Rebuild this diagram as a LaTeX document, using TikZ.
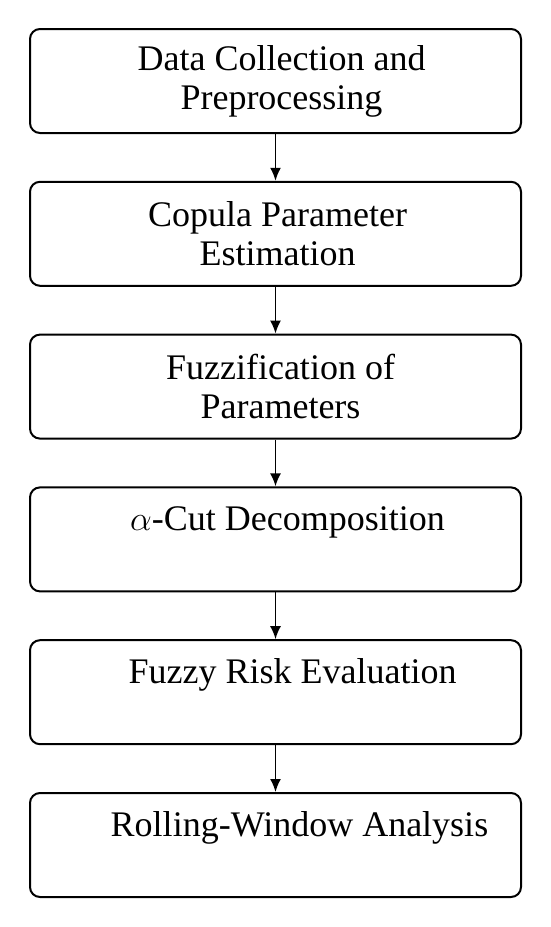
\documentclass[tikz,border=0pt]{standalone}
\usepackage{fontspec}
\setmainfont{Liberation Serif}
\usetikzlibrary{arrows.meta,positioning}

\begin{document}
\begin{tikzpicture}[
  % Boxes and connectors
  stage/.style={
    draw=black,
    rounded corners=5pt,
    line width=1pt,
    minimum width=245.5pt,
    minimum height=52pt,
    inner sep=0pt
  },
  stagetext/.style={
    font=\fontsize{18}{19.5}\selectfont,
    align=center,
    inner sep=0pt
  },
  arr/.style={
    -{Latex[length=6.5pt,width=5.5pt]},
    line width=0.9pt
  },
  node distance=23.4pt
]
\useasboundingbox (0,0) rectangle (275.5pt,-463.5pt);

% Stages
\node[stage] (collect) at (137.75pt,-40.5pt) {};
\node[stage, below=of collect] (copula) {};
\node[stage, below=of copula] (fuzzify) {};
\node[stage, below=of fuzzify] (alphacut) {};
\node[stage, below=of alphacut] (risk) {};
\node[stage, below=of risk] (rolling) {};

% Stage texts
\node[stagetext, xshift=3pt] (collecttext) at (collect) {Data Collection and\\Preprocessing};
\node[stagetext, xshift=1pt] (copulatext) at (copula) {Copula Parameter\\Estimation};
\node[stagetext, xshift=2.5pt] (fuzzifytext) at (fuzzify) {Fuzzification of\\Parameters};
\node[stagetext, anchor=base, xshift=6pt] (alphacuttext) at ([yshift=-22pt]alphacut.north) {$\alpha$-Cut Decomposition};
\node[stagetext, anchor=base, xshift=8.5pt] (risktext) at ([yshift=-22pt]risk.north) {Fuzzy Risk Evaluation};
\node[stagetext, anchor=base, xshift=12pt] (rollingtext) at ([yshift=-22pt]rolling.north) {Rolling-Window Analysis};

% Arrows
\draw[arr] (collect) -- (copula);
\draw[arr] (copula) -- (fuzzify);
\draw[arr] (fuzzify) -- (alphacut);
\draw[arr] (alphacut) -- (risk);
\draw[arr] (risk) -- (rolling);

\end{tikzpicture}
\end{document}
